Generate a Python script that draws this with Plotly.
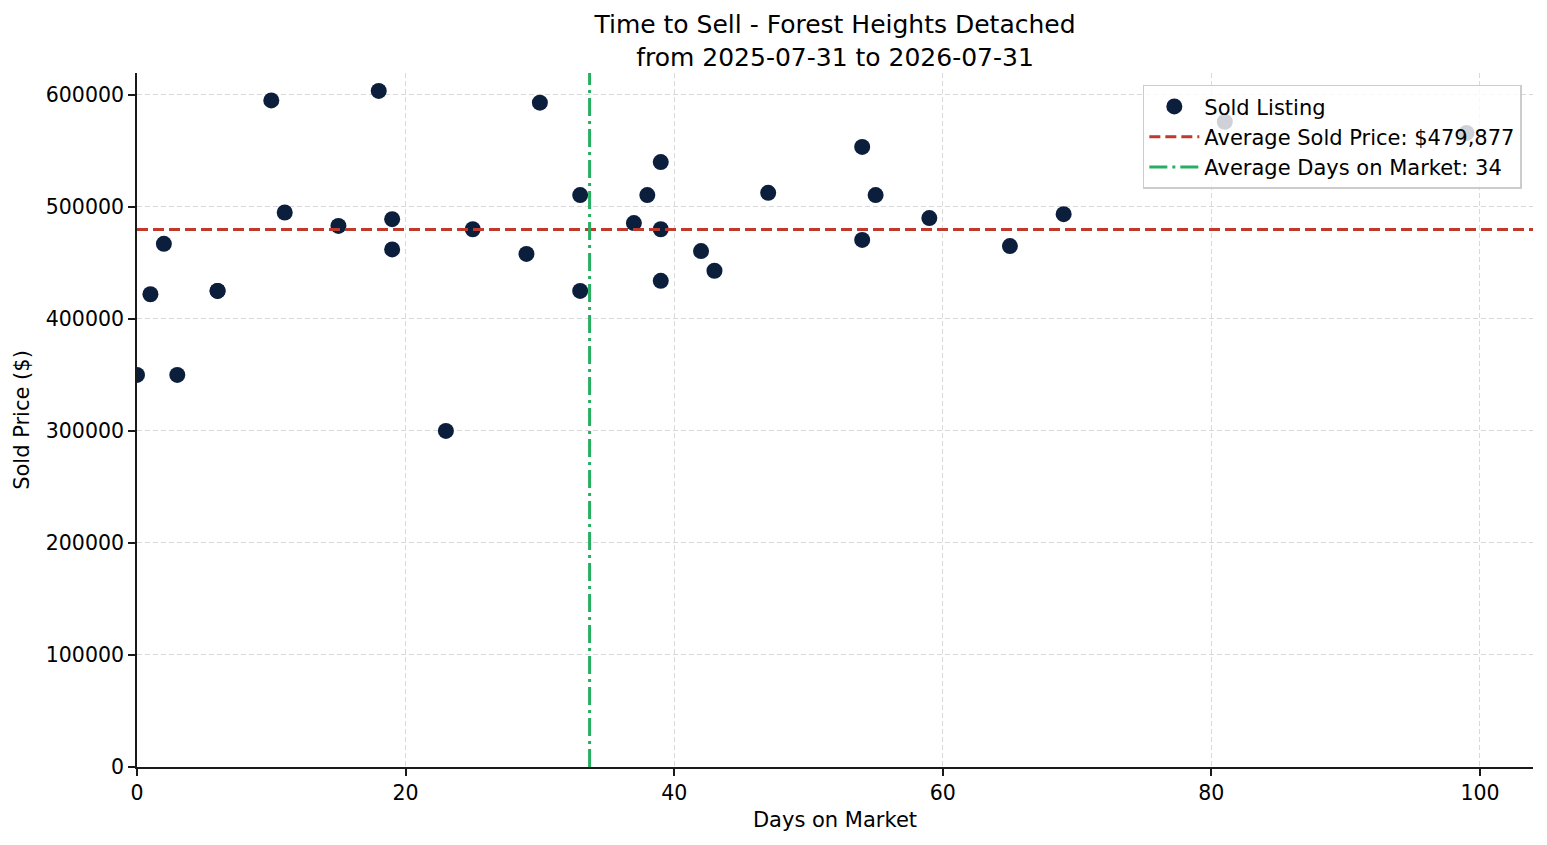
import plotly.graph_objects as go

# sold listings: days on market vs sold price
days_on_market = [0, 1, 2, 3, 6, 6, 10, 11, 15, 18, 19, 19, 23, 25, 29, 30, 33, 33,
                  37, 38, 39, 39, 39, 42, 43, 47, 54, 54, 55, 59, 65, 69, 81, 99]
sold_price = [350000, 422000, 467000, 350000, 425000, 425000, 595000, 495000, 483000,
              603500, 489000, 462000, 300000, 480000, 458000, 593000, 510500, 425000,
              485500, 510500, 540000, 480000, 434000, 460500, 443000, 512500, 553500,
              470500, 510500, 490000, 465000, 493500, 576000, 566000]

AVG_PRICE = 479877
AVG_DAYS = 33.7
X_RANGE = [0, 103.95]
Y_RANGE = [0, 619500]

FONT = "DejaVu Sans"

fig = go.Figure()

fig.add_trace(go.Scatter(
    x=days_on_market, y=sold_price,
    mode="markers",
    name="Sold Listing",
    marker=dict(size=16, color="#0b1e3c", line=dict(width=0)),
))

# average price (horizontal) and average days (vertical)
fig.add_trace(go.Scatter(
    x=X_RANGE, y=[AVG_PRICE, AVG_PRICE],
    mode="lines",
    name=f"Average Sold Price: ${AVG_PRICE:,}",
    line=dict(color="#c0392b", width=3, dash="11px,5px"),
))
fig.add_trace(go.Scatter(
    x=[AVG_DAYS, AVG_DAYS], y=Y_RANGE,
    mode="lines",
    name=f"Average Days on Market: {round(AVG_DAYS)}",
    line=dict(color="#27ae60", width=3, dash="18px,5px,3px,5px"),
))

# page body adds 8px margin, so the figure is a bit smaller than the window
fig.update_layout(
    width=1539, height=837,
    autosize=False,
    margin=dict(l=129, r=14, t=65, b=78),
    plot_bgcolor="white",
    paper_bgcolor="white",
    font=dict(family=FONT, size=20, color="black"),
    title=dict(
        text="Time to Sell - Forest Heights Detached<br>from 2025-07-31 to 2026-07-31",
        x=(827 / 1539), xanchor="center",
        y=0.97, yanchor="top",
        font=dict(family=FONT, size=25, color="black"),
    ),
    xaxis=dict(
        range=X_RANGE,
        tickvals=[0, 20, 40, 60, 80, 100],
        tickfont=dict(size=20.5),
        showgrid=True, gridcolor="#d9d9d9", gridwidth=1, griddash="5px,3px",
        showline=True, linecolor="#1a1a1a", linewidth=1.7,
        ticks="outside", ticklen=7, tickwidth=1.7, tickcolor="#1a1a1a",
        zeroline=False,
        title=dict(text="Days on Market", standoff=8, font=dict(size=21)),
    ),
    yaxis=dict(
        range=Y_RANGE,
        tickvals=[0, 100000, 200000, 300000, 400000, 500000, 600000],
        tickformat="d",
        tickfont=dict(size=20.5),
        showgrid=True, gridcolor="#d9d9d9", gridwidth=1, griddash="5px,3px",
        showline=True, linecolor="#1a1a1a", linewidth=1.7,
        ticks="outside", ticklen=7, tickwidth=1.7, tickcolor="#1a1a1a",
        zeroline=False,
        title=dict(text="Sold Price ($)", standoff=10, font=dict(size=21)),
    ),
    legend=dict(
        x=0.992, xanchor="right",
        y=0.983, yanchor="top",
        bgcolor="rgba(255,255,255,0.8)",
        bordercolor="#cccccc", borderwidth=1.5,
        itemwidth=50,
        font=dict(family=FONT, size=21),
    ),
    showlegend=True,
)

fig.write_html("out.html")
